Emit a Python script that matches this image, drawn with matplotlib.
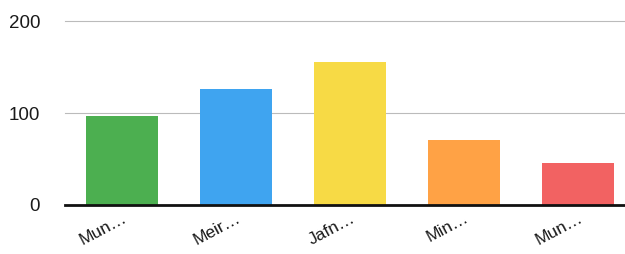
import matplotlib
matplotlib.use("Agg")
import matplotlib.pyplot as plt

plt.rcParams["font.family"] = ["Liberation Sans", "DejaVu Sans"]

categories = ["Mun…", "Meir…", "Jafn…", "Min…", "Mun…"]
values = [97, 126, 155, 71, 46]
colors = ["#4CAF50", "#3FA4F0", "#F7DA45", "#FFA245", "#F26262"]
yticks = [0, 100, 200]

fig = plt.figure(figsize=(6.25, 2.54), dpi=100)
ax = fig.add_axes([0.104, 0.193, 0.896, 0.724])
x = list(range(len(categories)))
ax.bar(x, values, width=0.63, color=colors, zorder=3)
ax.set_xlim(-0.5, 4.41)
ax.set_ylim(0, 200)
ax.set_yticks(yticks)
ax.set_yticklabels([str(v) for v in yticks], fontsize=13.5, color="#1a1a1a")
ax.set_xticks(x)
ax.set_xticklabels(categories, rotation=28, ha="right", rotation_mode="anchor", fontsize=12.5, color="#1a1a1a")
ax.tick_params(axis="both", length=0)
ax.tick_params(axis="y", pad=18)
ax.tick_params(axis="x", pad=4)
for s in ["top", "right", "left"]:
    ax.spines[s].set_visible(False)
ax.spines["bottom"].set_linewidth(2)
ax.spines["bottom"].set_color("#111111")
ax.spines["bottom"].set_zorder(4)
ax.yaxis.grid(True, color="#bbbbbb", linewidth=0.8, zorder=0)
for gl in ax.yaxis.get_gridlines():
    gl.set_clip_on(False)
fig.savefig("out.png", dpi=100)
